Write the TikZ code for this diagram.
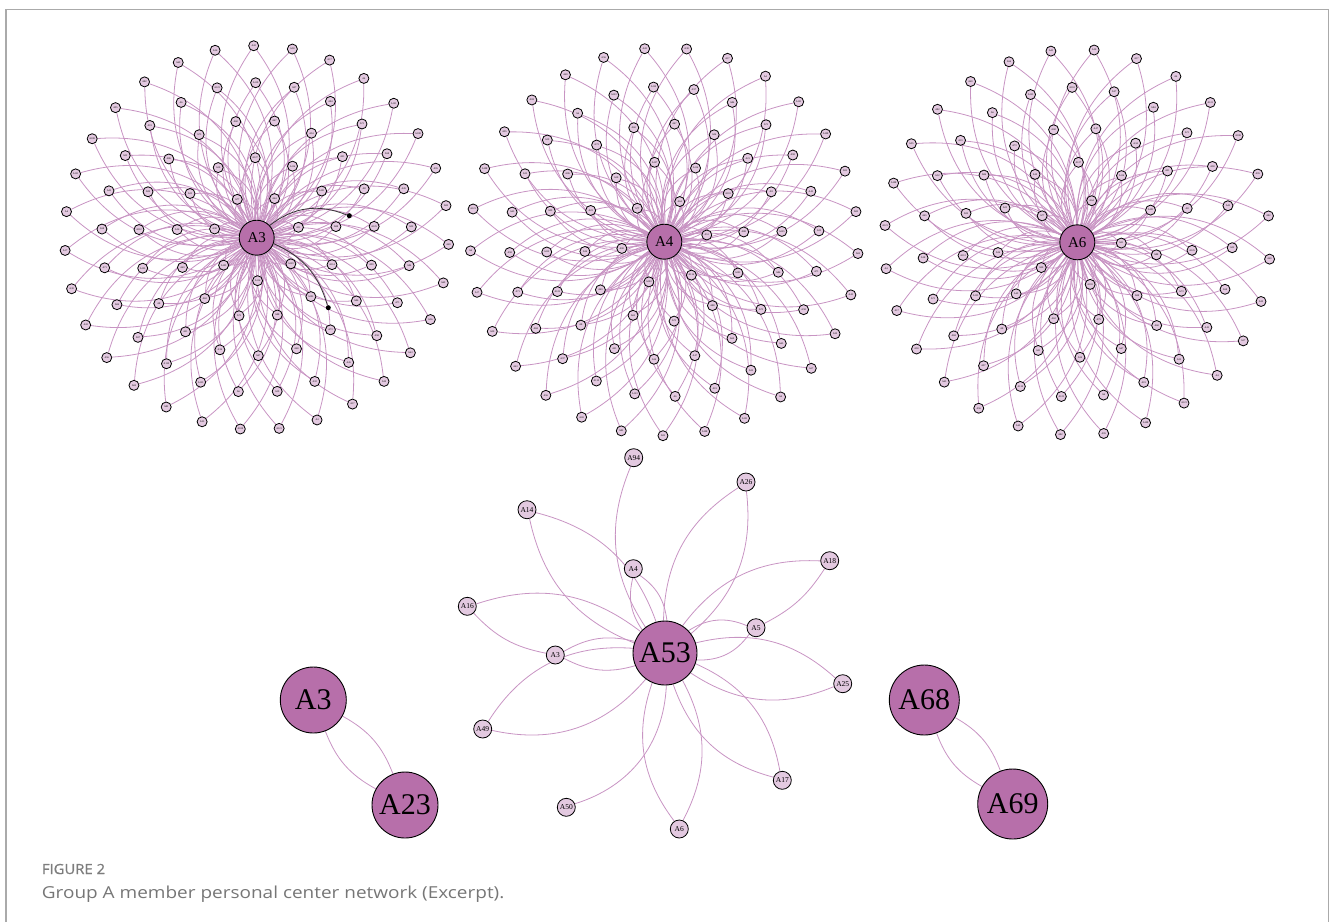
\documentclass[tikz,border=0pt]{standalone}
\usepackage{fontspec}
\setmainfont{Liberation Serif}
\newfontfamily\capfont{Open Sans}
\usetikzlibrary{calc}
\pgfdeclarelayer{bg}
\pgfsetlayers{bg,main}
\definecolor{hubfill}{RGB}{183,111,170}
\definecolor{leaffill}{RGB}{227,201,224}
\definecolor{edgec}{RGB}{200,148,195}
\definecolor{framec}{RGB}{170,170,170}
\definecolor{capgray}{RGB}{118,118,118}
\definecolor{headgray}{RGB}{125,125,125}
\tikzset{
  hub/.style={circle, draw=black, line width=0.9pt, fill=hubfill, inner sep=0pt, minimum size=35pt, font=\fontsize{15}{15}\selectfont},
  bighub/.style={hub, minimum size=66pt, font=\fontsize{30}{30}\selectfont},
  leaf/.style={circle, draw=black, line width=0.8pt, fill=leaffill, inner sep=0pt, minimum size=10pt, font=\fontsize{2.5}{2.5}\selectfont},
  midleaf/.style={leaf, minimum size=18pt, font=\fontsize{7.5}{7.5}\selectfont},
  edge/.style={draw=edgec, line width=0.8pt},
  hiedge/.style={draw=black!80, line width=0.8pt},
  hidot/.style={circle, fill=black, inner sep=0pt, minimum size=5pt},
  framel/.style={draw=framec, line width=1.2pt},
  caphead/.style={anchor=base west, inner sep=0pt, text=headgray, font=\capfont\addfontfeature{FakeBold=0.8,FakeStretch=1.06}\fontsize{14}{14}\selectfont},
  captext/.style={anchor=base west, inner sep=0pt, text=capgray, font=\capfont\addfontfeature{FakeStretch=1.15}\fontsize{16.5}{16.5}\selectfont}
}
\newcommand\starnet[4]{%
  \node[hub] (#1) at (#2) {#3};
  \foreach \cnt/\rad/\st [count=\ri] in {#4} {%
    \foreach \k in {1,...,\cnt} {%
      \pgfmathsetmacro\ang{-(\st+360*(\k-1)/\cnt)}%
      \pgfmathtruncatemacro\lab{mod(\ri*37+\k*13,130)+1}%
      \node[leaf] (#1-\ri-\k) at ($(#1)+(\ang:\rad)$) {A\lab};
    }%
  }%
  \begin{pgfonlayer}{bg}
  \foreach \cnt/\rad/\st [count=\ri] in {#4} {%
    \foreach \k in {1,...,\cnt} {%
      \draw[edge] (#1) to[bend left=33] (#1-\ri-\k);
      \draw[edge] (#1) to[bend right=33] (#1-\ri-\k);
    }%
  }%
  \end{pgfonlayer}
}
\begin{document}
\begin{tikzpicture}[x=1pt,y=-1pt]
\useasboundingbox (0,0) rectangle (1330,922);
% frame
\draw[framel] (6,922) -- (6,9.7) -- (1328.8,9.7) -- (1328.8,922);

% three large personal networks
\starnet{hA}{256.7,237.7}{A3}{7/43/14, 13/80/8, 19/118/5.5, 25/155/4, 31/192/-2}
\starnet{hB}{664.3,241.7}{A4}{6/43/9, 12/80/7, 18/118/5, 24/155/4, 29/194/-3.5}
\starnet{hC}{1077.3,242.3}{A6}{5/44/-1, 11/80/-9, 17/115/-4, 23/155/-2, 28/193/-5}

% highlighted edges in A3 network
\node[hidot] (d1) at (349.3,215.7) {};
\node[hidot] (d2) at (328.3,307.7) {};
\draw[hiedge] (hA) to[bend left=30] (d1);
\draw[hiedge] (hA) to[bend left=25] (d2);

% A53 network
\node[bighub, minimum size=64pt] (A53) at (665,653) {A53};
\node[midleaf] (s94) at (633.7,457.7) {A94};
\node[midleaf] (s26) at (746,482) {A26};
\node[midleaf] (s14) at (527,509.7) {A14};
\node[midleaf] (s18) at (829.7,560.7) {A18};
\node[midleaf] (s4)  at (633.3,568.7) {A4};
\node[midleaf] (s16) at (467.3,606.3) {A16};
\node[midleaf] (s5)  at (756,627.7) {A5};
\node[midleaf] (s3)  at (555.3,655) {A3};
\node[midleaf] (s25) at (842.7,683.7) {A25};
\node[midleaf] (s49) at (482.7,729) {A49};
\node[midleaf] (s17) at (782.3,780.3) {A17};
\node[midleaf] (s50) at (566.3,807.3) {A50};
\node[midleaf] (s6)  at (679.3,829) {A6};

% pairs
\node[bighub] (pA3) at (313.3,700) {A3};
\node[bighub] (pA23) at (405,805) {A23};
\node[bighub, minimum size=70pt] (pA68) at (924.3,700) {A68};
\node[bighub, minimum size=70pt] (pA69) at (1012.7,804) {A69};

\begin{pgfonlayer}{bg}
  \draw[edge] (s94) to[bend right=28] (A53);
  \draw[edge] (s50) to[bend right=35] (A53);
  \draw[edge] (s16) to[bend left=28] (A53);
  \draw[edge] (s16) to[bend right=18] (s3);
  \draw[edge] (s18) to[bend right=28] (A53);
  \draw[edge] (s18) to[bend left=15] (s5);
  \foreach \s/\b in {s26/28,s14/28,s4/24,s5/28,s3/22,s25/28,s49/31,s17/28,s6/28}{
    \draw[edge] (A53) to[bend left=\b] (\s);
    \draw[edge] (A53) to[bend right=\b] (\s);
  }
  \draw[edge] (pA3) to[bend left=20] (pA23);
  \draw[edge] (pA3) to[bend right=20] (pA23);
  \draw[edge] (pA68) to[bend left=20] (pA69);
  \draw[edge] (pA68) to[bend right=20] (pA69);
\end{pgfonlayer}

% caption
\node[caphead] (fighead) at (41.7,874) {FIGURE 2};
\node[captext] (figcap) at (41.7,898) {Group A member personal center network (Excerpt).};
\end{tikzpicture}
\end{document}
